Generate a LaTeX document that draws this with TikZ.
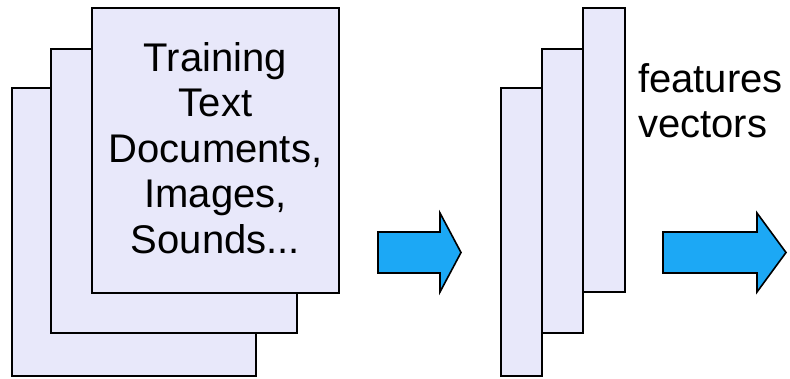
\documentclass[tikz,border=0pt]{standalone}
\usepackage{fontspec}
\setmainfont{Liberation Sans}
\definecolor{pagefill}{RGB}{232,232,250}
\definecolor{arrowblue}{RGB}{28,168,245}
\begin{document}
\begin{tikzpicture}[x=1pt,y=-1pt,
  page/.style={draw=black, line width=1.8pt, fill=pagefill, inner sep=0pt},
  blockarrow/.style={draw=black, line width=1.6pt, fill=arrowblue, line join=miter},
  lbl/.style={font=\fontsize{40}{45.5}\selectfont, inner sep=0pt}]
\useasboundingbox (0,0) rectangle (790,378);
% left stack of documents
\node[page, minimum width=244pt, minimum height=288pt] (doc3) at (134,232) {};
\node[page, minimum width=246pt, minimum height=284pt] (doc2) at (174,191) {};
\node[page, minimum width=247pt, minimum height=285pt] (doc1) at (215.5,150.5) {};
\node[lbl, align=center] (doctext) at (215.5,148) {Training\\Text\\Documents,\\Images,\\Sounds...};
% first block arrow
\draw[blockarrow] (378,232) -- (440,232) -- (440,213) -- (461,252.5) -- (440,292) -- (440,273) -- (378,273) -- cycle;
% feature vector strips
\node[page, minimum width=41pt, minimum height=288pt] (vec3) at (521.5,232) {};
\node[page, minimum width=41pt, minimum height=284pt] (vec2) at (562.5,191) {};
\node[page, minimum width=42pt, minimum height=284pt] (vec1) at (604,150) {};
\node[lbl, align=left, anchor=north west] (vectext) at (638,63) {features\\vectors};
% second block arrow
\draw[blockarrow] (663,232) -- (757,232) -- (757,213) -- (786,252.5) -- (757,292) -- (757,273) -- (663,273) -- cycle;
\end{tikzpicture}
\end{document}
